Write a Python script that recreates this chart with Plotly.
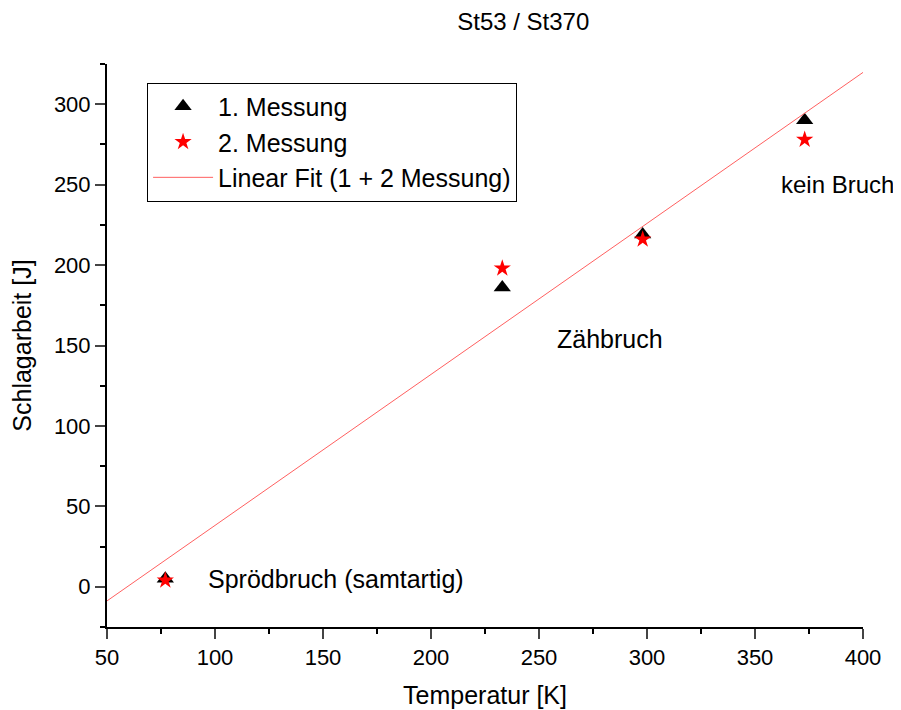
import numpy as np
import plotly.graph_objects as go

temp_1 = [77, 233, 298, 373]
work_1 = [5, 186, 219, 290]
temp_2 = [77, 233, 298, 373]
work_2 = [4, 198, 216, 278]

fit_x_range = [50, 400]
x_ticks = [50, 100, 150, 200, 250, 300, 350, 400]
y_ticks = [0, 50, 100, 150, 200, 250, 300]

all_x = np.array(temp_1 + temp_2, dtype=float)
all_y = np.array(work_1 + work_2, dtype=float)
slope, intercept = np.polyfit(all_x, all_y, 1)
fit_x = np.array(fit_x_range, dtype=float)
fit_y = slope * fit_x + intercept

FONT = "Liberation Sans, Arial, sans-serif"

fig = go.Figure()
fig.add_trace(go.Scatter(x=temp_1, y=work_1, mode="markers", name="1. Messung",
                         marker=dict(symbol="triangle-up", size=15, color="black")))
fig.add_trace(go.Scatter(x=temp_2, y=work_2, mode="markers", name="2. Messung",
                         marker=dict(symbol="star", size=13, color="red", line=dict(width=0))))
fig.add_trace(go.Scatter(x=fit_x, y=fit_y, mode="lines", name="Linear Fit (1 + 2 Messung)",
                         line=dict(color="#ff6060", width=1)))

fig.update_layout(
    width=893, height=702,
    margin=dict(l=99, r=38, t=56, b=83, autoexpand=False),
    paper_bgcolor="white", plot_bgcolor="white",
    font=dict(family=FONT, size=22, color="black"),
    title=dict(text="St53 / St370", x=0.577, xanchor="center", y=0.98, yanchor="middle",
               font=dict(size=24)),
    showlegend=True,
    legend=dict(x=0.053, y=0.967, xanchor="left", yanchor="top",
                bordercolor="black", borderwidth=1, bgcolor="white",
                font=dict(size=25), itemwidth=60, tracegroupgap=0),
)
fig.update_xaxes(range=[50, 400], tickvals=x_ticks, ticks="outside", ticklen=10, tickwidth=1.5,
                 showline=True, linecolor="black", linewidth=2, showgrid=False, zeroline=False,
                 automargin=False,
                 minor=dict(dtick=25, ticks="outside", ticklen=5, tickwidth=1.5, tickcolor="black"),
                 tickfont=dict(size=22),
                 title=dict(text="Temperatur [K]", font=dict(size=25), standoff=17))
fig.update_yaxes(range=[-25, 325], tickvals=y_ticks, ticks="outside", ticklen=10, tickwidth=1.5,
                 showline=True, linecolor="black", linewidth=2, showgrid=False, zeroline=False,
                 automargin=False,
                 minor=dict(dtick=25, ticks="outside", ticklen=5, tickwidth=1.5, tickcolor="black"),
                 tickfont=dict(size=22),
                 title=dict(text="Schlagarbeit [J]", font=dict(size=25), standoff=16))

annotations = [
    ("Sprödbruch (samtartig)", 96, 5, "left", 25),
    ("Zähbruch", 283, 154, "center", 25),
    ("kein Bruch", 388, 250, "center", 24),
]
for text, ax, ay, anchor, fs in annotations:
    fig.add_annotation(x=ax, y=ay, text=text, showarrow=False, xanchor=anchor,
                       yanchor="middle", font=dict(size=fs))

fig.write_html("out.html")
